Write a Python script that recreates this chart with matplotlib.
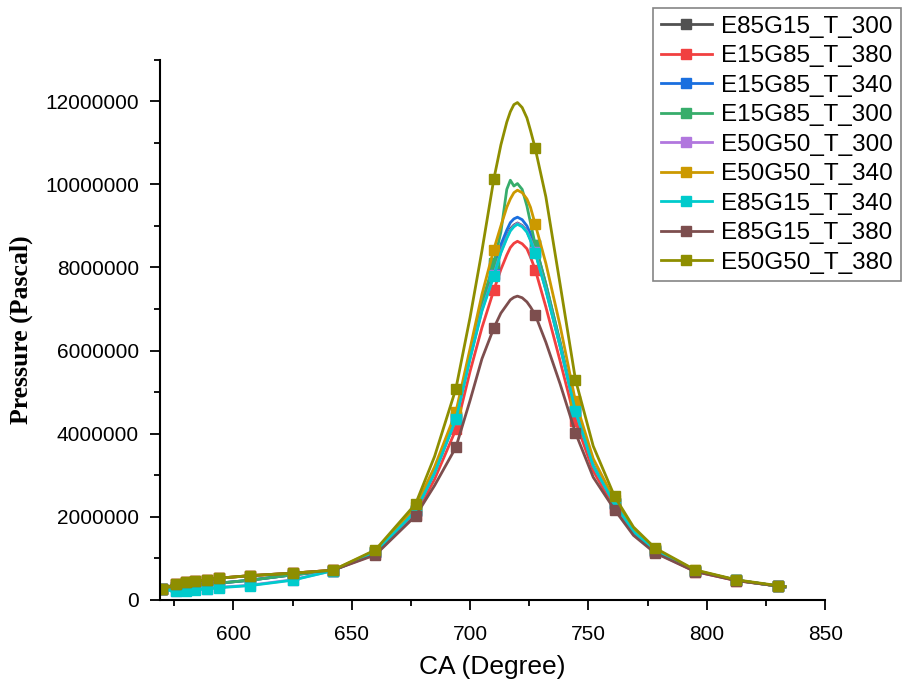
import matplotlib
matplotlib.use("Agg")
import matplotlib.pyplot as plt
from matplotlib.ticker import MultipleLocator

# crank angle grid (degrees), shared by all series
ca = [570, 576, 580, 584, 589, 594, 607, 625, 642, 660, 677, 685, 694, 700, 705,
      710, 713, 715.5, 717, 718.5, 720, 722, 724, 725.5, 727.5, 732, 738, 744.5,
      752, 761, 769, 778, 795, 812.5, 830, 833]
# indices on the grid where the square markers sit
marker_idx = [0, 1, 2, 3, 4, 5, 6, 7, 8, 9, 10, 12, 15, 24, 27, 29, 31, 32, 33, 34]

# pressure in MPa (x 1e6 Pa)
p_e85g15_300 = [0.25, 0.30, 0.33, 0.36, 0.38, 0.40, 0.47, 0.60, 0.70, 1.15, 2.14, 3.07, 4.36,
                5.85, 7.0, 7.85, 8.4, 8.75, 8.93, 9.02, 9.07, 9.01, 8.88, 8.68, 8.38, 7.48,
                6.12, 4.55, 3.23, 2.32, 1.64, 1.18, 0.70, 0.47, 0.33, 0.31]
p_e15g85_380 = [0.26, 0.38, 0.42, 0.45, 0.48, 0.52, 0.58, 0.64, 0.71, 1.10, 2.05, 2.90, 4.10,
                5.5, 6.55, 7.45, 7.95, 8.3, 8.48, 8.58, 8.63, 8.57, 8.45, 8.25, 7.95, 7.05,
                5.75, 4.30, 3.10, 2.22, 1.58, 1.15, 0.68, 0.46, 0.33, 0.31]
p_e15g85_340 = [0.25, 0.30, 0.33, 0.36, 0.38, 0.40, 0.47, 0.60, 0.70, 1.15, 2.15, 3.10, 4.40,
                5.95, 7.15, 8.05, 8.55, 8.9, 9.08, 9.17, 9.21, 9.15, 9.0, 8.82, 8.55, 7.6,
                6.2, 4.55, 3.25, 2.33, 1.65, 1.19, 0.70, 0.47, 0.33, 0.31]
p_e15g85_300 = [0.25, 0.30, 0.33, 0.36, 0.38, 0.40, 0.47, 0.60, 0.70, 1.15, 2.15, 3.10, 4.40,
                5.95, 7.15, 8.1, 8.85, 9.88, 10.1, 9.96, 10.02, 9.88, 9.48, 9.08, 8.55, 7.6,
                6.2, 4.55, 3.25, 2.33, 1.65, 1.19, 0.70, 0.47, 0.33, 0.31]
p_e50g50_300 = [0.25, 0.21, 0.23, 0.25, 0.27, 0.30, 0.35, 0.48, 0.70, 1.15, 2.13, 3.06, 4.35,
                5.82, 6.97, 7.81, 8.37, 8.72, 8.9, 9.0, 9.06, 9.0, 8.87, 8.67, 8.37, 7.47,
                6.11, 4.55, 3.23, 2.31, 1.64, 1.18, 0.70, 0.47, 0.33, 0.31]
p_e50g50_340 = [0.26, 0.38, 0.42, 0.45, 0.48, 0.52, 0.58, 0.64, 0.71, 1.18, 2.24, 3.20, 4.52,
                6.05, 7.35, 8.43, 9.0, 9.45, 9.65, 9.8, 9.86, 9.8, 9.65, 9.45, 9.04, 8.1,
                6.6, 4.78, 3.40, 2.40, 1.70, 1.22, 0.71, 0.47, 0.33, 0.31]
p_e85g15_340 = [0.25, 0.20, 0.22, 0.24, 0.26, 0.29, 0.34, 0.47, 0.70, 1.15, 2.13, 3.05, 4.34,
                5.8, 6.95, 7.79, 8.35, 8.7, 8.88, 8.98, 9.04, 8.98, 8.85, 8.65, 8.35, 7.45,
                6.1, 4.54, 3.22, 2.31, 1.64, 1.18, 0.70, 0.47, 0.33, 0.31]
p_e85g15_380 = [0.26, 0.38, 0.42, 0.45, 0.48, 0.52, 0.58, 0.64, 0.71, 1.08, 2.02, 2.75, 3.67,
                4.8, 5.8, 6.54, 6.9, 7.1, 7.22, 7.28, 7.31, 7.27, 7.17, 7.05, 6.86, 6.2,
                5.2, 4.02, 2.95, 2.17, 1.55, 1.13, 0.68, 0.46, 0.33, 0.31]
p_e50g50_380 = [0.26, 0.38, 0.42, 0.45, 0.48, 0.52, 0.58, 0.64, 0.71, 1.20, 2.31, 3.45, 5.08,
                6.8, 8.4, 10.12, 10.95, 11.5, 11.75, 11.92, 11.97, 11.85, 11.6, 11.3, 10.87, 9.7,
                7.6, 5.30, 3.70, 2.49, 1.75, 1.25, 0.72, 0.48, 0.34, 0.32]

labels = ["E85G15_T_300", "E15G85_T_380", "E15G85_T_340", "E15G85_T_300", "E50G50_T_300",
          "E50G50_T_340", "E85G15_T_340", "E85G15_T_380", "E50G50_T_380"]
series = [p_e85g15_300, p_e15g85_380, p_e15g85_340, p_e15g85_300, p_e50g50_300,
          p_e50g50_340, p_e85g15_340, p_e85g15_380, p_e50g50_380]
colors = ["#515151", "#F14040", "#1A6FDF", "#37AD6B", "#B177DE",
          "#CC9900", "#00CBCC", "#7D4E4E", "#8E8E00"]

yticks = [0, 2000000, 4000000, 6000000, 8000000, 10000000, 12000000]
xticks = [600, 650, 700, 750, 800, 850]

plt.rcParams["font.family"] = ["Liberation Sans", "DejaVu Sans"]

fig = plt.figure(figsize=(9.19, 6.87), dpi=100)
ax = fig.add_axes([0.174, 0.127, 0.724, 0.786])

for label, vals, color in zip(labels, series, colors):
    ax.plot(ca, [v * 1e6 for v in vals], color=color, linewidth=2.0, label=label,
            marker="s", markersize=6.5, markevery=marker_idx)

ax.set_xlim(569, 850)
ax.set_ylim(0, 13000000)
ax.set_xticks(xticks)
ax.set_yticks(yticks)
ax.set_yticklabels([str(t) for t in yticks])
ax.xaxis.set_minor_locator(MultipleLocator(25))
ax.yaxis.set_minor_locator(MultipleLocator(1000000))
ax.tick_params(which="major", direction="out", length=7, width=1.3, labelsize=15, colors="black")
ax.tick_params(axis="x", which="major", pad=11)
ax.tick_params(axis="y", which="major", pad=8)
ax.tick_params(which="minor", direction="out", length=4, width=1.3)

for side in ("top", "right"):
    ax.spines[side].set_visible(False)
for side in ("left", "bottom"):
    ax.spines[side].set_linewidth(1.5)

ax.set_xlabel("CA (Degree)", fontsize=19, labelpad=8)
ax.set_ylabel("Pressure (Pascal)", fontsize=18.5, fontweight="bold",
              family=["Liberation Serif", "DejaVu Serif"], labelpad=9)

leg = fig.legend(loc="upper left", bbox_to_anchor=(0.711, 0.988), fontsize=17.5,
                 frameon=True, fancybox=False, handlelength=2.1, labelspacing=0.31,
                 borderpad=0.3, handletextpad=0.4, borderaxespad=0)
leg.get_frame().set_edgecolor("#666666")
leg.get_frame().set_linewidth(1.2)

fig.savefig("out.png", dpi=100)
